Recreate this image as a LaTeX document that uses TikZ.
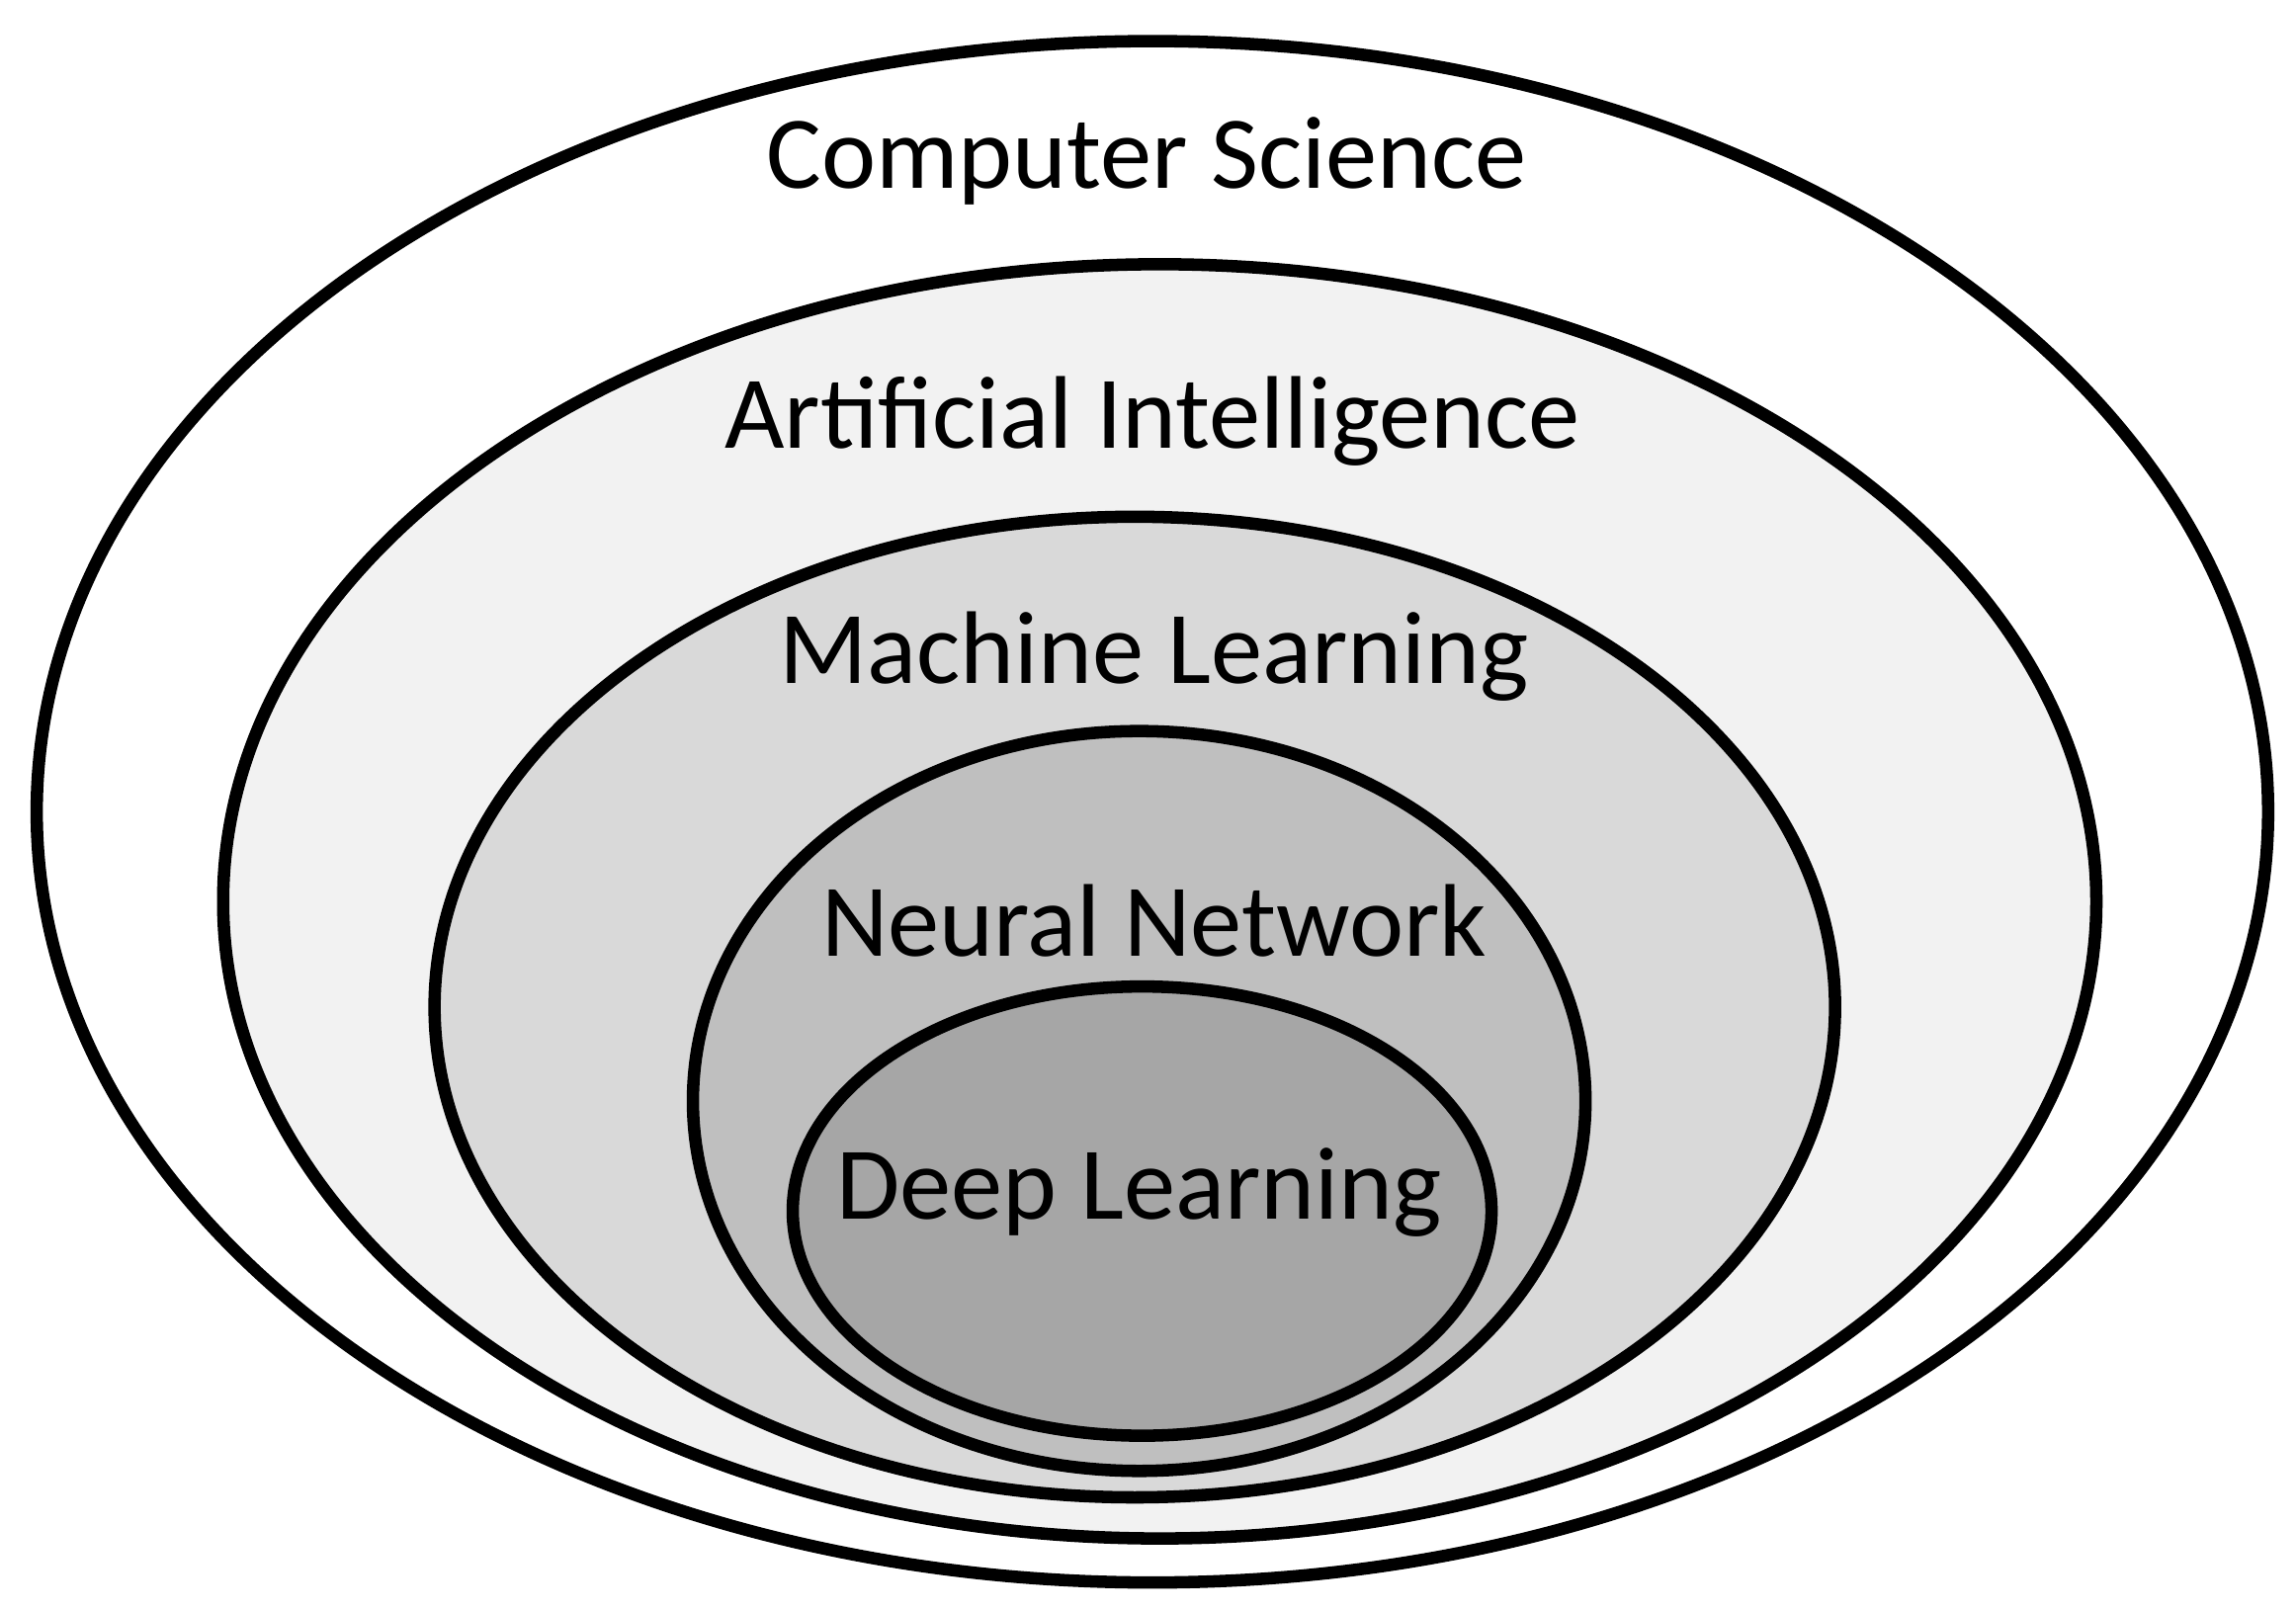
\documentclass[tikz,border=0pt]{standalone}
\usepackage{fontspec}
\setmainfont{Carlito}
\begin{document}
\begin{tikzpicture}[x=0.01cm,y=-0.01cm,
  ring/.style={draw=black,line width=2.4pt},
  lab/.style={font=\fontsize{20}{24}\selectfont,inner sep=0pt}]
\useasboundingbox (0,0) rectangle (1564,1097);
\path[ring,fill=white] (785,553) ellipse [x radius=760,y radius=525];
\path[ring,fill=black!5] (790,614) ellipse [x radius=638,y radius=434];
\path[ring,fill=black!15] (773,686) ellipse [x radius=477,y radius=334];
\path[ring,fill=black!25] (776,750) ellipse [x radius=304,y radius=252];
\path[ring,fill=black!35] (778,825) ellipse [x radius=238,y radius=153];
\node[lab] (cs) at (781,110) {Computer Science};
\node[lab] (ai) at (785,287) {Artificial Intelligence};
\node[lab] (ml) at (786,447) {Machine Learning};
\node[lab] (nn) at (786,627) {Neural Network};
\node[lab] (dl) at (776,812) {Deep Learning};
\end{tikzpicture}
\end{document}
